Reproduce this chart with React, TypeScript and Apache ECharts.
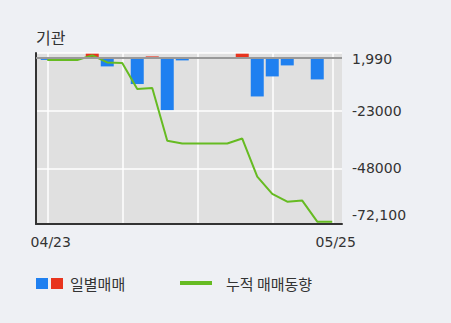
import React, { useEffect, useRef } from "react";
import * as echarts from "echarts";

const dates = [
  "04/23", "04/26", "04/27", "04/28", "04/29", "04/30", "05/04", "05/06", "05/07", "05/10",
  "05/11", "05/12", "05/13", "05/14", "05/17", "05/18", "05/20", "05/21", "05/24", "05/25",
];
const dailyNet = [
  -1000, 0, 0, 1690, -3820, 0, -11460, 520, -22740, -1215,
  0, 0, 0, 1690, -16840, -8160, -3385, 0, -9460, 0,
];
const cumulative = [
  -1040, -1040, -1040, 955, -2080, -2340, -13630, -13190, -36020, -37200,
  -37200, -37200, -37200, -35070, -51560, -59070, -62410, -61970, -71090, -71090,
];
const yTicks = [1990, -23000, -48000, -72100];
const xGridIdx = [0, 5, 10, 15, 19];
const xLabelIdx = [0, 19];
const yMin = -72100;
const yMax = 1990;

const BLUE = "#1f80f0";
const RED = "#e8341e";
const GREEN = "#66bb22";
const NUM_FONT = "DejaVu Sans";
const KR_FONT = "Noto Sans CJK KR";

export default function App() {
  const ref = useRef<HTMLDivElement>(null);
  useEffect(() => {
    if (!ref.current) return;
    const chart = echarts.init(ref.current, undefined, { renderer: "svg" });
    const fmtY = (v: number) => {
      if (v === yMax) return "{t|1,990}";
      if (v === yMin) return "{b|-72,100}";
      return String(v);
    };
    chart.setOption({
      animation: false,
      backgroundColor: "#eef0f4",
      grid: {
        left: 36,
        right: 109,
        top: 53,
        bottom: 99,
        show: true,
        backgroundColor: "#e0e0e0",
        borderWidth: 0,
      },
      xAxis: {
        type: "value",
        min: -0.75,
        max: 19.65,
        axisLine: { show: true, onZero: false, lineStyle: { color: "#333", width: 2 } },
        axisTick: { show: false, customValues: xGridIdx },
        splitLine: { show: true, lineStyle: { color: "#ffffff", width: 1.5 } },
        axisLabel: {
          customValues: xLabelIdx,
          formatter: (v: number) => dates[Math.round(v)] ?? "",
          fontFamily: NUM_FONT,
          fontSize: 14,
          color: "#333",
          margin: 11,
          padding: [0, 0, 0, 7],
        },
      },
      yAxis: [
        {
          type: "value",
          position: "right",
          min: yMin,
          max: yMax,
          axisLine: { show: false },
          axisTick: { show: false, customValues: yTicks },
          splitLine: { show: true, lineStyle: { color: "#ffffff", width: 1.5 } },
          axisLabel: {
            customValues: yTicks,
            formatter: fmtY,
            fontFamily: NUM_FONT,
            fontSize: 14,
            color: "#333",
            margin: 10,
            rich: {
              t: { fontFamily: NUM_FONT, fontSize: 14, color: "#333", padding: [11, 0, 0, 0] },
              b: { fontFamily: NUM_FONT, fontSize: 14, color: "#333", padding: [0, 0, 18, 0] },
            },
          },
        },
        {
          type: "value",
          position: "left",
          min: yMin,
          max: yMax,
          axisLine: { show: true, lineStyle: { color: "#333", width: 2 } },
          axisTick: { show: false },
          splitLine: { show: false },
          axisLabel: { show: false },
        },
      ],
      series: [
        {
          type: "bar",
          yAxisIndex: 0,
          barWidth: 13,
          data: dailyNet.map((v, i) => [i, v]),
          itemStyle: {
            color: (p: any) => (p.value[1] >= 0 ? RED : BLUE),
          },
          markLine: {
            silent: true,
            symbol: ["none", "none"],
            label: { show: false },
            lineStyle: { color: "#999", width: 2, type: "solid" },
            data: [{ yAxis: 0 }],
          },
          z: 2,
        },
        {
          type: "line",
          yAxisIndex: 0,
          data: cumulative.map((v, i) => [i, v]),
          showSymbol: false,
          lineStyle: { color: GREEN, width: 2 },
          itemStyle: { color: GREEN },
          z: 4,
        },
      ],
      graphic: [
        {
          type: "text",
          x: 36,
          y: 37,
          style: { text: "기관", font: `16px "${KR_FONT}"`, fill: "#333", verticalAlign: "middle" },
        },
        { type: "rect", shape: { x: 36, y: 278, width: 12, height: 11 }, style: { fill: BLUE } },
        { type: "rect", shape: { x: 51, y: 278, width: 12, height: 11 }, style: { fill: RED } },
        {
          type: "text",
          x: 70,
          y: 283.5,
          style: { text: "일별매매", font: `15px "${KR_FONT}"`, fill: "#333", verticalAlign: "middle" },
        },
        { type: "rect", shape: { x: 180, y: 281, width: 32, height: 4 }, style: { fill: GREEN } },
        {
          type: "text",
          x: 226,
          y: 283.5,
          style: { text: "누적 매매동향", font: `15px "${KR_FONT}"`, fill: "#333", verticalAlign: "middle" },
        },
      ],
    });
    return () => chart.dispose();
  }, []);
  return (
    <div
      ref={ref}
      style={{ position: "fixed", left: 0, top: 0, width: 451, height: 323, background: "#eef0f4" }}
    />
  );
}
